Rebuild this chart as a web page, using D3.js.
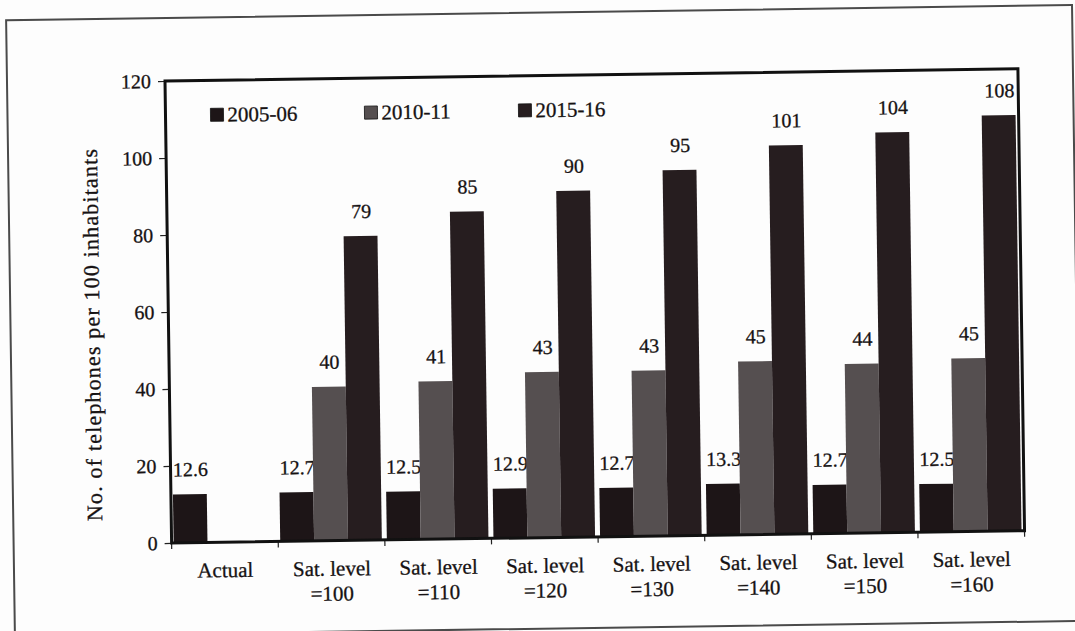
<!DOCTYPE html>
<html>
<head>
<meta charset="utf-8">
<script src="https://cdn.jsdelivr.net/npm/d3@7/dist/d3.min.js"></script>
<style>
  html, body { margin: 0; padding: 0; background: #fdfdfd; }
  svg { display: block; }
  svg text {
    font-family: "Liberation Serif", "Times New Roman", serif;
    fill: #161213;
    stroke: #161213;
    stroke-width: 0.3px;
  }
</style>
</head>
<body>
<svg id="chart" width="1075" height="631"></svg>
<script>
// Telephone density projections by saturation level
const categories = ["Actual", "Sat100", "Sat110", "Sat120", "Sat130", "Sat140", "Sat150", "Sat160"];
const categoryLines = [
  ["Actual"],
  ["Sat. level", "=100"],
  ["Sat. level", "=110"],
  ["Sat. level", "=120"],
  ["Sat. level", "=130"],
  ["Sat. level", "=140"],
  ["Sat. level", "=150"],
  ["Sat. level", "=160"]
];
const seriesNames = ["2005-06", "2010-11", "2015-16"];
const values2005 = [12.6, 12.7, 12.5, 12.9, 12.7, 13.3, 12.7, 12.5];
const values2010 = [null, 40, 41, 43, 43, 45, 44, 45];
const values2015 = [null, 79, 85, 90, 95, 101, 104, 108];
const yTicks = [0, 20, 40, 60, 80, 100, 120];
const seriesColors = ["#1d1517", "#554f50", "#261d1f"];

const seriesValues = [values2005, values2010, values2015];
const FONT = '"Liberation Serif", "Times New Roman", serif';

const svg = d3.select("#chart");
const plot = { left: 165, right: 1018, top: 81, bottom: 543 };

// the printed page sits slightly tilted
const page = svg.append("g")
  .attr("transform", `rotate(-0.82, ${plot.left}, ${plot.top})`)
  .attr("font-family", FONT);

// outer box
page.append("rect")
  .attr("x", 7).attr("y", 18)
  .attr("width", 1066).attr("height", 616)
  .attr("fill", "none")
  .attr("stroke", "#4a4a4a")
  .attr("stroke-width", 2);

const x = d3.scaleBand()
  .domain(categories)
  .range([plot.left, plot.right])
  .paddingInner(0).paddingOuter(0);

const xInner = d3.scaleBand()
  .domain(seriesNames)
  .range([2, x.bandwidth() - 3]);

const y = d3.scaleLinear()
  .domain([0, 120])
  .range([plot.bottom, plot.top]);

// y axis
const yAxis = page.append("g")
  .attr("transform", `translate(${plot.left},0)`)
  .call(d3.axisLeft(y).tickValues(yTicks).tickSize(7).tickPadding(7).tickFormat(d3.format("d")));
yAxis.attr("font-family", FONT).attr("font-size", 20);
yAxis.select(".domain").remove();
yAxis.selectAll(".tick line").attr("stroke", "#222").attr("stroke-width", 1.2);
yAxis.selectAll(".tick text").attr("fill", "#161213");

// x axis ticks at band edges
const xEdges = categories.map(c => x(c)).concat([plot.right]);
page.append("g").selectAll("line")
  .data(xEdges)
  .join("line")
  .attr("x1", d => d).attr("x2", d => d)
  .attr("y1", plot.bottom).attr("y2", plot.bottom + 6)
  .attr("stroke", "#222").attr("stroke-width", 1.2);

// category labels
const catG = page.append("g").attr("font-size", 21);
categoryLines.forEach((lines, i) => {
  const cx = x(categories[i]) + x.bandwidth() / 2;
  const t = catG.append("text")
    .attr("x", cx)
    .attr("y", plot.bottom + 35)
    .attr("text-anchor", "middle");
  lines.forEach((ln, j) => {
    t.append("tspan")
      .attr("x", cx)
      .attr("dy", j === 0 ? 0 : 25)
      .text(ln);
  });
});

// bars and value labels, one series at a time
seriesNames.forEach((name, si) => {
  const data = seriesValues[si]
    .map((v, i) => ({ cat: categories[i], v }))
    .filter(d => d.v !== null);
  const g = page.append("g");
  g.selectAll("rect")
    .data(data)
    .join("rect")
    .attr("x", d => x(d.cat) + xInner(name))
    .attr("y", d => y(d.v))
    .attr("width", xInner.bandwidth())
    .attr("height", d => y(0) - y(d.v))
    .attr("fill", seriesColors[si]);
  g.selectAll("text")
    .data(data)
    .join("text")
    .attr("x", d => x(d.cat) + xInner(name) + xInner.bandwidth() / 2 + 1)
    .attr("y", d => y(d.v) - 18)
    .attr("text-anchor", "middle")
    .attr("font-size", 20)
    .text(d => d.v);
});

// plot frame
page.append("rect")
  .attr("x", plot.left).attr("y", plot.top)
  .attr("width", plot.right - plot.left)
  .attr("height", plot.bottom - plot.top)
  .attr("fill", "none")
  .attr("stroke", "#111")
  .attr("stroke-width", 3);

// y axis title
page.append("text")
  .attr("transform", `translate(96, 334) rotate(-90)`)
  .attr("text-anchor", "middle")
  .attr("font-size", 22)
  .attr("textLength", 372)
  .attr("lengthAdjust", "spacing")
  .text("No. of telephones per 100 inhabitants");

// legend
const legendX = [210, 364, 518];
const legend = page.append("g").attr("font-size", 21);
seriesNames.forEach((name, i) => {
  legend.append("rect")
    .attr("x", legendX[i]).attr("y", 109)
    .attr("width", 13).attr("height", 13)
    .attr("fill", seriesColors[i])
    .attr("stroke", "#111").attr("stroke-width", 0.8);
  legend.append("text")
    .attr("x", legendX[i] + 17)
    .attr("y", 122.5)
    .text(name);
});
</script>
</body>
</html>
